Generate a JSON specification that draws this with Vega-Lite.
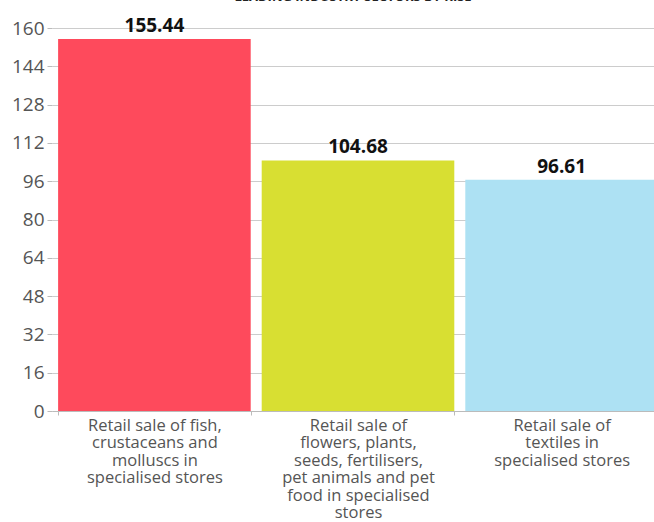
{
  "$schema": "https://vega.github.io/schema/vega-lite/v6.json",
  "autosize": {"type": "none"},
  "padding": {"left": 52, "top": 28, "right": 0, "bottom": 111},
  "width": 602,
  "height": 383,
  "background": "white",
  "title": {"text": "LEADING INDUSTRY SECTORS BY RISE", "fontSize": 13, "font": "Open Sans", "fontWeight": "bold", "color": "#222", "offset": 13, "anchor": "middle"},
  "config": {"view": {"stroke": null}, "font": "Open Sans"},
  "data": {"values": [
    {"sector": "Retail sale of fish,|crustaceans and|molluscs in|specialised stores", "value": 155.44, "order": 1},
    {"sector": "Retail sale of|flowers, plants,|seeds, fertilisers,|pet animals and pet|food in specialised|stores", "value": 104.68, "order": 2},
    {"sector": "Retail sale of|textiles in|specialised stores", "value": 96.61, "order": 3}
  ]},
  "encoding": {
    "x": {"field": "sector", "type": "nominal", "sort": {"field": "order"},
      "scale": {"range": [0, 612], "paddingInner": 0.054, "paddingOuter": 0.03},
      "axis": {"title": null, "labelAngle": 0, "labelExpr": "split(datum.label, '|')", "labelFont": "Open Sans", "labelFontSize": 16.5, "labelColor": "#555", "labelLineHeight": 17.5, "labelPadding": 2, "domainColor": "#bbb", "tickColor": "#bbb", "tickBand": "extent", "tickSize": 4, "labelLimit": 300}},
    "y": {"field": "value", "type": "quantitative",
      "scale": {"domain": [0, 160], "nice": false},
      "axis": {"title": null, "values": [0,16,32,48,64,80,96,112,128,144,160], "domain": false, "labelFont": "Open Sans", "labelFontSize": 19, "labelColor": "#555", "gridColor": "#ccc", "tickColor": "#bbb", "tickSize": 5, "labelPadding": 3}}
  },
  "layer": [
    {"mark": {"type": "bar"},
     "encoding": {"color": {"field": "sector", "type": "nominal", "sort": {"field": "order"}, "legend": null,
       "scale": {"range": ["#FE4A5C", "#D8DF32", "#ADE1F3"]}}}},
    {"mark": {"type": "text", "baseline": "bottom", "dy": -3, "fontSize": 19, "fontWeight": "bold", "color": "#111", "font": "Open Sans"},
     "encoding": {"text": {"field": "value", "type": "quantitative", "format": ".2f"}}}
  ]
}
